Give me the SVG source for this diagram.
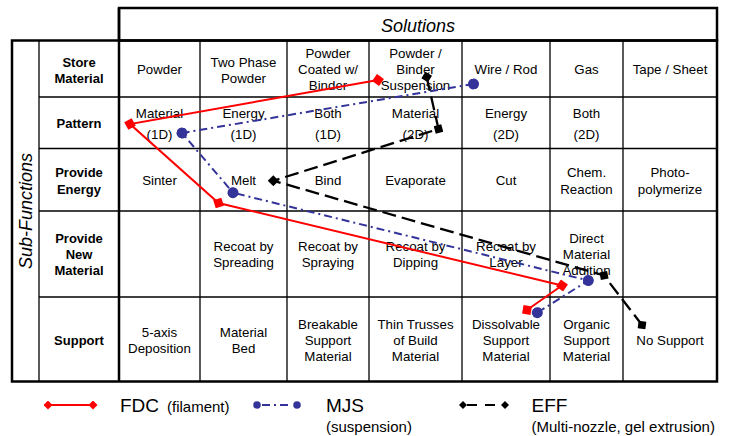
<svg xmlns="http://www.w3.org/2000/svg" width="734" height="436" viewBox="0 0 734 436">
<style>
text{font-family:"Liberation Sans",Arial,sans-serif;fill:#000}
.c{font-size:13.3px;text-anchor:middle}
.b{font-size:13px;font-weight:bold;text-anchor:middle}
.h{font-size:18px;font-style:italic;text-anchor:middle}
.lg{font-size:19px}
.ls{font-size:15px}
.thick{fill:none;stroke:#000;stroke-width:2.5}
.thin{fill:none;stroke:#000;stroke-width:1.3}
.fdc{fill:none;stroke:#ff0000;stroke-width:2;marker-start:url(#dR);marker-mid:url(#dR);marker-end:url(#dR)}
.mjs{fill:none;stroke:#333399;stroke-width:2;stroke-dasharray:8 4 2 4;marker-start:url(#cB);marker-mid:url(#cB);marker-end:url(#cB)}
.eff{fill:none;stroke:#000;stroke-width:2.3;stroke-dasharray:14 6;marker-start:url(#dK);marker-mid:url(#dK);marker-end:url(#dK)}
</style>
<defs>
<marker id="dR" viewBox="-5 -5 10 10" markerWidth="12" markerHeight="12" markerUnits="userSpaceOnUse" orient="auto"><path d="M-5,0L0,-5L5,0L0,5Z" fill="#ff0000"/></marker>
<marker id="dK" viewBox="-5 -5 10 10" markerWidth="11" markerHeight="11" markerUnits="userSpaceOnUse" orient="auto"><path d="M-5,0L0,-5L5,0L0,5Z" fill="#000"/></marker>
<marker id="cB" viewBox="-5 -5 10 10" markerWidth="11" markerHeight="11" markerUnits="userSpaceOnUse" orient="auto"><circle r="5" fill="#333399"/></marker>
<marker id="dRs" viewBox="-5 -5 10 10" markerWidth="9" markerHeight="9" markerUnits="userSpaceOnUse" orient="auto"><path d="M-5,0L0,-5L5,0L0,5Z" fill="#ff0000"/></marker>
<marker id="dKs" viewBox="-5 -5 10 10" markerWidth="8" markerHeight="8" markerUnits="userSpaceOnUse" orient="auto"><path d="M-5,0L0,-5L5,0L0,5Z" fill="#000"/></marker>
<marker id="cBs" viewBox="-5 -5 10 10" markerWidth="7.5" markerHeight="7.5" markerUnits="userSpaceOnUse" orient="auto"><circle r="5" fill="#333399"/></marker>
</defs>

<g id="grid">
<line class="thin" x1="39" y1="40" x2="39" y2="381.5"/>
<line class="thin" x1="200" y1="40" x2="200" y2="381.5"/>
<line class="thin" x1="287" y1="40" x2="287" y2="381.5"/>
<line class="thin" x1="369" y1="40" x2="369" y2="381.5"/>
<line class="thin" x1="462" y1="40" x2="462" y2="381.5"/>
<line class="thin" x1="550" y1="40" x2="550" y2="381.5"/>
<line class="thin" x1="623" y1="40" x2="623" y2="381.5"/>
<line class="thin" x1="39" y1="97" x2="717" y2="97"/>
<line class="thin" x1="39" y1="148.5" x2="717" y2="148.5"/>
<line class="thin" x1="39" y1="211" x2="717" y2="211"/>
<line class="thin" x1="39" y1="297" x2="717" y2="297"/>
<rect class="thick" x="119" y="8" width="598" height="32.5"/>
<rect class="thick" x="12" y="40.5" width="705" height="341"/>
<line class="thick" x1="119" y1="8" x2="119" y2="381.5"/>
</g>

<g id="headers">
<text class="h" x="418" y="31.5">Solutions</text>
<text class="h" transform="translate(32,211) rotate(-90)">Sub-Functions</text>
</g>

<g id="row-store">
<text class="b" x="79" y="66.5">Store</text><text class="b" x="79" y="82.5">Material</text>
<text class="c" x="159.5" y="74">Powder</text>
<text class="c" x="243.5" y="66.5">Two Phase</text><text class="c" x="243.5" y="82.5">Powder</text>
<text class="c" x="328" y="58">Powder</text><text class="c" x="328" y="74">Coated w/</text><text class="c" x="328" y="90">Binder</text>
<text class="c" x="415.5" y="58">Powder /</text><text class="c" x="415.5" y="74">Binder</text><text class="c" x="415.5" y="90">Suspension</text>
<text class="c" x="506" y="74">Wire / Rod</text>
<text class="c" x="586.5" y="74">Gas</text>
<text class="c" x="670" y="74">Tape / Sheet</text>
</g>

<g id="row-pattern">
<text class="b" x="79" y="128">Pattern</text>
<text class="c" x="159.5" y="118">Material</text><text class="c" x="159.5" y="139">(1D)</text>
<text class="c" x="243.5" y="118">Energy</text><text class="c" x="243.5" y="139">(1D)</text>
<text class="c" x="328" y="118">Both</text><text class="c" x="328" y="139">(1D)</text>
<text class="c" x="415.5" y="118">Material</text><text class="c" x="415.5" y="139">(2D)</text>
<text class="c" x="506" y="118">Energy</text><text class="c" x="506" y="139">(2D)</text>
<text class="c" x="586.5" y="118">Both</text><text class="c" x="586.5" y="139">(2D)</text>
</g>

<g id="row-energy">
<text class="b" x="79" y="177">Provide</text><text class="b" x="79" y="193.5">Energy</text>
<text class="c" x="159.5" y="185">Sinter</text>
<text class="c" x="243.5" y="185">Melt</text>
<text class="c" x="328" y="185">Bind</text>
<text class="c" x="415.5" y="185">Evaporate</text>
<text class="c" x="506" y="185">Cut</text>
<text class="c" x="586.5" y="177">Chem.</text><text class="c" x="586.5" y="193.5">Reaction</text>
<text class="c" x="670" y="177">Photo-</text><text class="c" x="670" y="193.5">polymerize</text>
</g>

<g id="row-newmaterial">
<text class="b" x="79" y="243">Provide</text><text class="b" x="79" y="259">New</text><text class="b" x="79" y="275">Material</text>
<text class="c" x="243.5" y="251">Recoat by</text><text class="c" x="243.5" y="267">Spreading</text>
<text class="c" x="328" y="251">Recoat by</text><text class="c" x="328" y="267">Spraying</text>
<text class="c" x="415.5" y="251">Recoat by</text><text class="c" x="415.5" y="267">Dipping</text>
<text class="c" x="506" y="251">Recoat by</text><text class="c" x="506" y="267">Layer</text>
<text class="c" x="586.5" y="243">Direct</text><text class="c" x="586.5" y="259">Material</text><text class="c" x="586.5" y="275">Addition</text>
</g>

<g id="row-support">
<text class="b" x="79" y="345">Support</text>
<text class="c" x="159.5" y="337">5-axis</text><text class="c" x="159.5" y="353">Deposition</text>
<text class="c" x="243.5" y="337">Material</text><text class="c" x="243.5" y="353">Bed</text>
<text class="c" x="328" y="329">Breakable</text><text class="c" x="328" y="345">Support</text><text class="c" x="328" y="361">Material</text>
<text class="c" x="415.5" y="329">Thin Trusses</text><text class="c" x="415.5" y="345">of Build</text><text class="c" x="415.5" y="361">Material</text>
<text class="c" x="506" y="329">Dissolvable</text><text class="c" x="506" y="345">Support</text><text class="c" x="506" y="361">Material</text>
<text class="c" x="586.5" y="329">Organic</text><text class="c" x="586.5" y="345">Support</text><text class="c" x="586.5" y="361">Material</text>
<text class="c" x="670" y="345">No Support</text>
</g>

<g id="connectors">
<polyline class="fdc" points="378,80 130,124 218.5,203 562,285.5 527,310"/>
<polyline class="mjs" points="473.5,84 182,133 233,192.7 588.3,280.5 537.3,312.7"/>
<polyline class="eff" points="426.7,77 438.5,129 273.3,180.7 604,275.5 642,325"/>
</g>

<g id="legend">
<line x1="48" y1="405" x2="93" y2="405" stroke="#ff0000" stroke-width="2" marker-start="url(#dRs)" marker-end="url(#dRs)"/>
<text class="lg" x="120" y="411.5">FDC</text><text class="ls" x="167" y="411.5">(filament)</text>
<line x1="257" y1="405" x2="297" y2="405" stroke="#333399" stroke-width="2" stroke-dasharray="0 5 8 4 2 4 8 4" marker-start="url(#cBs)" marker-end="url(#cBs)"/>
<text class="lg" x="326" y="411.5">MJS</text><text class="ls" x="326" y="432">(suspension)</text>
<line x1="463" y1="405" x2="505" y2="405" stroke="#000" stroke-width="2" stroke-dasharray="0 4 10 8 10 10" marker-start="url(#dKs)" marker-end="url(#dKs)"/>
<text class="lg" x="531.5" y="411.5">EFF</text><text class="ls" x="531.5" y="432">(Multi-nozzle, gel extrusion)</text>
</g>
</svg>
